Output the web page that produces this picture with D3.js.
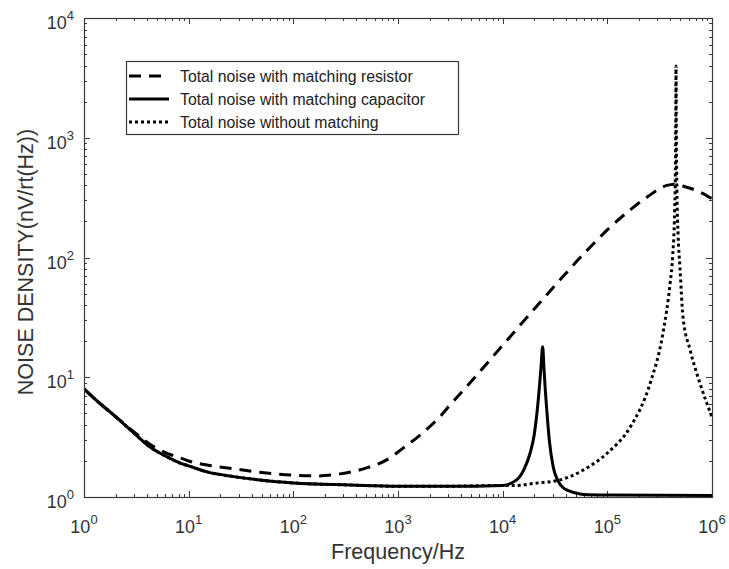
<!DOCTYPE html>
<html>
<head>
<meta charset="utf-8">
<script src="https://cdn.jsdelivr.net/npm/d3@7"></script>
<style>
  html, body { margin: 0; padding: 0; background: #fff; }
  svg { display: block; }
  text { font-family: "Liberation Sans", Arial, Helvetica, sans-serif; }
</style>
</head>
<body>
<svg id="chart" width="729" height="569"></svg>
<script>
// ---------------- data ----------------
const resistorFreq = [1, 1.4, 2, 3, 4.3, 6, 8.3, 10, 15, 27, 50, 100, 170, 280, 500, 780, 1120, 1700, 2500, 3160, 5000, 10000, 26300, 61700, 107000, 170000, 240000, 370000, 450000, 525000, 724000, 1000000];
const resistorNoise = [8, 6.1, 4.7, 3.5, 2.75, 2.35, 2.12, 2.0, 1.85, 1.72, 1.6, 1.52, 1.5, 1.56, 1.75, 2.04, 2.56, 3.4, 4.66, 5.9, 9.2, 18.5, 48.6, 111, 180, 255, 320, 400, 410, 395, 360, 309];

const capacitorFreq = [1, 1.4, 2, 3, 4.3, 6, 8.3, 10, 15, 27, 50, 100, 350, 1000, 3000, 10000, 13600, 16000, 18300, 20000, 21400, 22500, 23300, 24100, 24800, 25500, 26400, 28000, 30400, 34000, 38000, 50000, 59000, 100000, 1000000];
const capacitorNoise = [8, 6.1, 4.7, 3.42, 2.6, 2.2, 1.92, 1.82, 1.62, 1.48, 1.38, 1.31, 1.26, 1.23, 1.23, 1.25, 1.39, 1.7, 2.33, 3.3, 5.3, 8.5, 12.5, 18, 12, 8, 5.3, 2.9, 1.78, 1.35, 1.19, 1.08, 1.05, 1.04, 1.03];

const noMatchFreq = [1, 1.4, 2, 3, 4.3, 6, 8.3, 10, 15, 27, 50, 100, 350, 1000, 3000, 10000, 13600, 20000, 35500, 59000, 100000, 166000, 257000, 340000, 398000, 420000, 440000, 448000, 451000, 453000, 456000, 462000, 475000, 494000, 528000, 617000, 767000, 1000000];
const noMatchNoise = [8, 6.1, 4.7, 3.42, 2.6, 2.2, 1.92, 1.82, 1.62, 1.48, 1.38, 1.31, 1.26, 1.23, 1.23, 1.25, 1.25, 1.3, 1.39, 1.68, 2.33, 3.85, 8.95, 23.4, 61, 100, 250, 650, 1600, 3980, 1100, 370, 150, 83, 32, 17, 8.9, 4.66];

const seriesNames = ["Total noise with matching resistor", "Total noise with matching capacitor", "Total noise without matching"];
const xTickExps = [0, 1, 2, 3, 4, 5, 6];
const yTickExps = [0, 1, 2, 3, 4];
const xLabel = "Frequency/Hz";
const yLabel = "NOISE DENSITY(nV/rt(Hz))";

// ---------------- layout ----------------
const svg = d3.select("#chart");
const L = 84, R = 712, T = 18, B = 497;
const axisColor = "#3a3a3a";
const textColor = "#333";

const x = d3.scaleLog().domain([1, 1e6]).range([L, R]);
const y = d3.scaleLog().domain([1, 1e4]).range([B, T]);

svg.append("defs").append("clipPath").attr("id", "clip")
  .append("rect").attr("x", L).attr("y", T).attr("width", R - L).attr("height", B - T);

// ---------------- ticks (inward, on all four sides) ----------------
const ticksG = svg.append("g").attr("stroke", axisColor).attr("stroke-width", 1);
function minorList(lo, hi) {
  const out = [];
  for (let e = lo; e < hi; e++) for (let m = 2; m <= 9; m++) out.push(m * Math.pow(10, e));
  return out;
}
const majLen = 6, minLen = 3;
xTickExps.forEach(e => {
  const px = Math.round(x(Math.pow(10, e))) + 0.5;
  ticksG.append("line").attr("x1", px).attr("x2", px).attr("y1", B).attr("y2", B - majLen);
  ticksG.append("line").attr("x1", px).attr("x2", px).attr("y1", T).attr("y2", T + majLen);
});
minorList(0, 6).forEach(v => {
  const px = Math.round(x(v)) + 0.5;
  ticksG.append("line").attr("x1", px).attr("x2", px).attr("y1", B).attr("y2", B - minLen);
  ticksG.append("line").attr("x1", px).attr("x2", px).attr("y1", T).attr("y2", T + minLen);
});
yTickExps.forEach(e => {
  const py = Math.round(y(Math.pow(10, e))) + 0.5;
  ticksG.append("line").attr("y1", py).attr("y2", py).attr("x1", L).attr("x2", L + majLen);
  ticksG.append("line").attr("y1", py).attr("y2", py).attr("x1", R).attr("x2", R - majLen);
});
minorList(0, 4).forEach(v => {
  const py = Math.round(y(v)) + 0.5;
  ticksG.append("line").attr("y1", py).attr("y2", py).attr("x1", L).attr("x2", L + minLen);
  ticksG.append("line").attr("y1", py).attr("y2", py).attr("x1", R).attr("x2", R - minLen);
});

// ---------------- curves ----------------
const line = d3.line()
  .x(d => x(d[0]))
  .y(d => y(d[1]))
  .curve(d3.curveMonotoneX);

const plotG = svg.append("g").attr("clip-path", "url(#clip)");
const series = [
  { f: resistorFreq, v: resistorNoise, dash: "12,8" },
  { f: capacitorFreq, v: capacitorNoise, dash: null },
  { f: noMatchFreq, v: noMatchNoise, dash: "3,3" }
];
series.forEach(s => {
  plotG.append("path")
    .datum(s.f.map((f, i) => [f, s.v[i]]))
    .attr("d", line)
    .attr("fill", "none")
    .attr("stroke", "#000")
    .attr("stroke-width", 3)
    .attr("stroke-linejoin", "round")
    .attr("stroke-dasharray", s.dash);
});

// ---------------- box ----------------
svg.append("rect")
  .attr("x", L + 0.5).attr("y", T + 0.5)
  .attr("width", R - L).attr("height", B - T)
  .attr("fill", "none").attr("stroke", axisColor).attr("stroke-width", 1.2);

// ---------------- tick labels ----------------
const labFs = 18, supFs = 13;
xTickExps.forEach(e => {
  const t = svg.append("text")
    .attr("x", x(Math.pow(10, e)))
    .attr("y", 533)
    .attr("text-anchor", "middle")
    .attr("fill", textColor)
    .attr("font-size", labFs);
  t.append("tspan").text("10");
  t.append("tspan").attr("dy", -9).attr("font-size", supFs).text(String(e));
});
yTickExps.forEach(e => {
  const t = svg.append("text")
    .attr("x", 74)
    .attr("y", y(Math.pow(10, e)) + 11)
    .attr("text-anchor", "end")
    .attr("fill", textColor)
    .attr("font-size", labFs);
  t.append("tspan").text("10");
  t.append("tspan").attr("dy", -9).attr("font-size", supFs).text(String(e));
});

// ---------------- axis titles ----------------
svg.append("text")
  .attr("x", (L + R) / 2).attr("y", 559)
  .attr("text-anchor", "middle")
  .attr("fill", textColor)
  .attr("font-size", 21.5)
  .text(xLabel);
svg.append("text")
  .attr("transform", `translate(33,262) rotate(-90)`)
  .attr("text-anchor", "middle")
  .attr("fill", textColor)
  .attr("font-size", 21.5)
  .text(yLabel);

// ---------------- legend ----------------
const lg = svg.append("g");
lg.append("rect")
  .attr("x", 126.5).attr("y", 61.5).attr("width", 332).attr("height", 73)
  .attr("fill", "#fff").attr("stroke", axisColor).attr("stroke-width", 1.2);
const rowsY = [76, 99, 122];
series.forEach((s, i) => {
  lg.append("line")
    .attr("x1", 129).attr("x2", 169)
    .attr("y1", rowsY[i]).attr("y2", rowsY[i])
    .attr("stroke", "#000").attr("stroke-width", 3)
    .attr("stroke-dasharray", s.dash);
  lg.append("text")
    .attr("x", 180).attr("y", rowsY[i] + 6)
    .attr("fill", "#222")
    .attr("font-size", 15.8)
    .text(seriesNames[i]);
});
</script>
</body>
</html>
